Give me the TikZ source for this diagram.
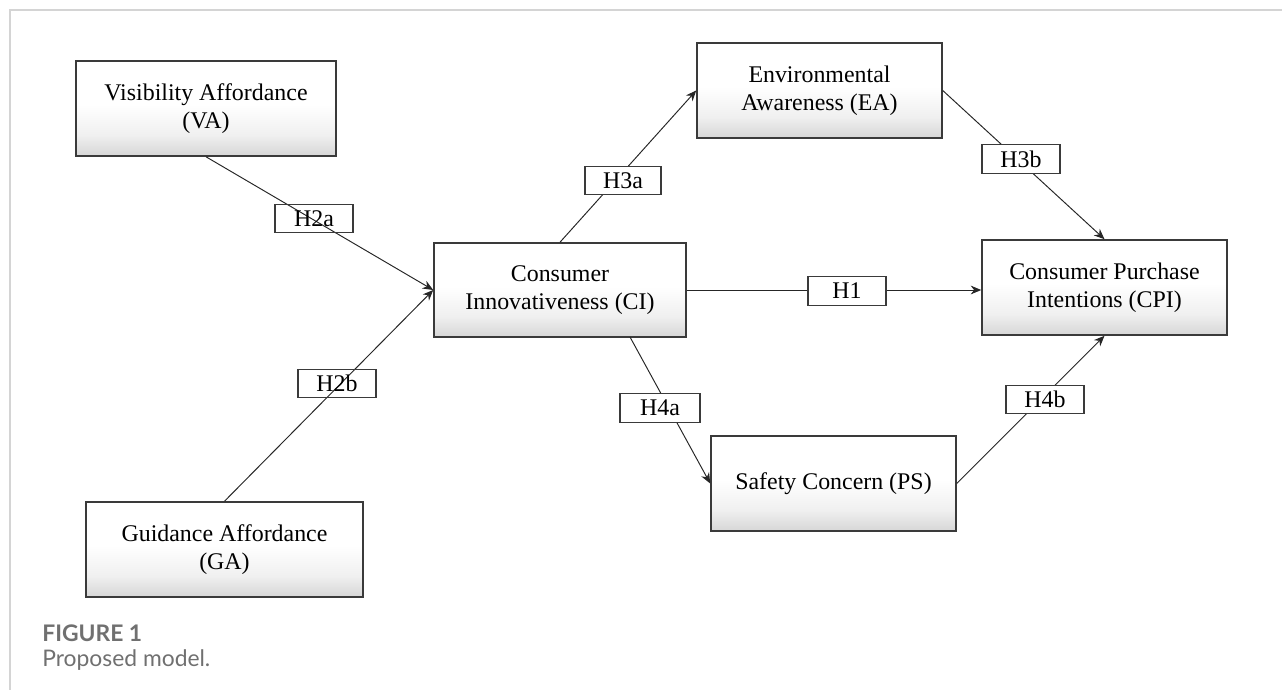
\documentclass[tikz,border=0pt]{standalone}
\usepackage{fontspec}
\setmainfont{Liberation Serif}
\newfontfamily\capfont{Lato}
\usetikzlibrary{arrows.meta}
\definecolor{frame}{HTML}{D4D4D4}
\definecolor{capgray}{HTML}{707070}
\definecolor{boxline}{HTML}{3A3A3A}
\pgfdeclareverticalshading{boxshade}{100bp}{color(0bp)=(black!16); color(25bp)=(black!16); color(36bp)=(black!6); color(52bp)=(white); color(75bp)=(white); color(100bp)=(white)}
\begin{document}
\begin{tikzpicture}[x=0.02cm,y=-0.02cm,
  box/.style={draw=boxline, line width=0.9pt, shading=boxshade,
    minimum width=4.9cm, minimum height=1.9cm, align=center, inner sep=2pt,
    font=\fontsize{13.6}{16.2}\selectfont},
  hlab/.style={draw=boxline, line width=0.6pt, minimum width=1.56cm, minimum height=0.57cm, inner sep=1pt,
    font=\fontsize{13.6}{15}\selectfont},
  hfill/.style={hlab, fill=white},
  arr/.style={-{Stealth[length=6pt,width=5pt]}, line width=0.55pt, draw=black!85}]
\useasboundingbox (0,0) rectangle (1282,690);
\draw[frame, line width=1.2pt] (10,690) -- (10,10) -- (1282,10);

\node[box, minimum width=5.2cm] (VA) at (206,108.5) {Visibility Affordance\\(VA)};
\node[box, minimum width=5.54cm] (GA) at (224.5,549.5) {Guidance Affordance\\(GA)};
\node[box, minimum width=5.04cm, minimum height=1.88cm] (CI) at (560,290) {Consumer\\Innovativeness (CI)};
\node[box] (EA) at (819.5,90.5) {Environmental\\Awareness (EA)};
\node[box] (CPI) at (1104.5,287.5) {Consumer Purchase\\Intentions (CPI)};
\node[box] (PS) at (833.5,483.5) {Safety Concern (PS)};

\coordinate (CIb) at (630,337);
\draw[arr] (VA.south) -- (CI.west);
\draw[arr] (GA.north) -- (CI.west);
\draw[arr] (CI.north) -- (EA.west);
\draw[arr] (EA.east) -- (CPI.north);
\draw[arr] (CI.east) -- (CI.east -| CPI.west);
\draw[arr] (CIb) -- (PS.west);
\draw[arr] (PS.east) -- (CPI.south);

\node[hlab] (H2a) at (314,218.5) {H2a};
\node[hlab] (H2b) at (337,383.5) {H2b};
\node[hfill, minimum width=1.52cm] (H3a) at (623,180.5) {H3a};
\node[hfill] (H3b) at (1021,159) {H3b};
\node[hfill] (H1) at (847,291) {H1};
\node[hfill, minimum width=1.6cm] (H4a) at (660,408) {H4a};
\node[hfill] (H4b) at (1045,399.5) {H4b};

\node[anchor=base west, inner sep=0pt, text=capgray, font=\capfont\bfseries\fontsize{13}{14}\selectfont] (fig) at (42,641) {FIGURE 1};
\node[anchor=base west, inner sep=0pt, text=capgray, font=\capfont\fontsize{13}{14}\selectfont] (cap) at (42,666) {Proposed model.};
\end{tikzpicture}
\end{document}
